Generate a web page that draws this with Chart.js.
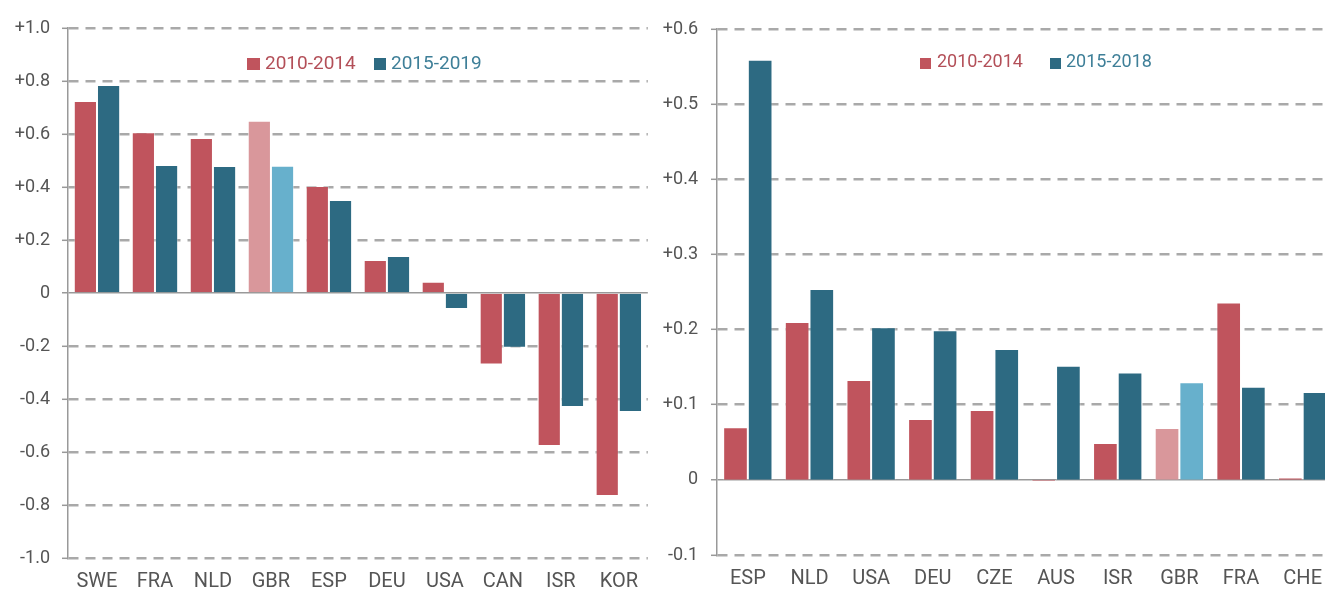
<!DOCTYPE html>
<html>
<head>
<meta charset="utf-8">
<script src="https://cdn.jsdelivr.net/npm/chart.js@4.4.1/dist/chart.umd.min.js"></script>
<style>
  html, body { margin: 0; padding: 0; background: #fff; overflow: hidden; width: 1325px; height: 590px; }
  .wrap { position: absolute; top: 0; height: 590px; }
  #w1 { left: 0; width: 650px; }
  #w2 { left: 650px; width: 684px; }
  .leg { position: absolute; font-family: Roboto, "Open Sans", sans-serif; white-space: nowrap; line-height: 1; }
  .box { position: absolute; }
</style>
</head>
<body>
<div class="wrap" id="w1"><canvas id="c1" width="650" height="590"></canvas></div>
<div class="wrap" id="w2"><canvas id="c2" width="684" height="590"></canvas></div>

<div class="box" style="left:247px;top:58px;width:13px;height:12px;background:#C0545D"></div>
<div class="leg" style="left:265px;top:53px;font-size:19px;color:#B34F58">2010-2014</div>
<div class="box" style="left:374px;top:58px;width:12px;height:12px;background:#2D6A82"></div>
<div class="leg" style="left:391px;top:53px;font-size:19px;color:#3E7F98">2015-2019</div>

<div class="box" style="left:920px;top:58px;width:11px;height:11px;background:#C0545D"></div>
<div class="leg" style="left:937px;top:52px;font-size:18px;color:#B34F58">2010-2014</div>
<div class="box" style="left:1050px;top:58px;width:11px;height:11px;background:#2D6A82"></div>
<div class="leg" style="left:1066px;top:52px;font-size:18px;color:#3E7F98">2015-2018</div>

<script>
// ---------- data ----------
const leftCategories = ['SWE','FRA','NLD','GBR','ESP','DEU','USA','CAN','ISR','KOR'];
const left2010_2014 = [0.725, 0.607, 0.585, 0.650, 0.404, 0.125, 0.042, -0.270, -0.577, -0.766];
const left2015_2019 = [0.785, 0.483, 0.479, 0.480, 0.351, 0.140, -0.060, -0.207, -0.430, -0.449];
const leftTickLabels = ['-1.0','-0.8','-0.6','-0.4','-0.2','0','+0.2','+0.4','+0.6','+0.8','+1.0'];

const rightCategories = ['ESP','NLD','USA','DEU','CZE','AUS','ISR','GBR','FRA','CHE'];
const right2010_2014 = [0.070, 0.210, 0.133, 0.081, 0.093, -0.002, 0.049, 0.069, 0.236, 0.003];
const right2015_2018 = [0.559, 0.254, 0.203, 0.199, 0.174, 0.152, 0.143, 0.130, 0.124, 0.117];
const rightTickLabels = ['-0.1','0','+0.1','+0.2','+0.3','+0.4','+0.5','+0.6'];

const highlight = 'GBR';

// ---------- styles ----------
const RED = '#C0545D', RED_L = '#D9979B', BLUE = '#2D6A82', BLUE_L = '#67B0CC';
const FONT = 'Roboto, "Open Sans", sans-serif';

function makeChart(id, cats, a, b, tickLabels, min, max, step, yWidth, xHeight, yPad, topPad) {
  const colA = cats.map(c => c === highlight ? RED_L : RED);
  const colB = cats.map(c => c === highlight ? BLUE_L : BLUE);
  const isZero = c => c.tick && Math.abs(c.tick.value) < 1e-9;
  return new Chart(document.getElementById(id), {
    type: 'bar',
    data: {
      labels: cats,
      datasets: [
        { data: a, backgroundColor: colA, borderColor: 'rgba(255,255,255,0.35)', borderWidth: 1, borderSkipped: 'start',
          categoryPercentage: 0.8, barPercentage: 1.0 },
        { data: b, backgroundColor: colB, borderColor: 'rgba(255,255,255,0.35)', borderWidth: 1, borderSkipped: 'start',
          categoryPercentage: 0.8, barPercentage: 1.0 }
      ]
    },
    options: {
      responsive: false,
      animation: false,
      layout: { padding: { top: topPad, left: 0, right: 0, bottom: 0 } },
      plugins: { legend: { display: false }, tooltip: { enabled: false } },
      scales: {
        x: {
          grid: { display: false, drawTicks: false },
          border: { display: false },
          ticks: { color: '#555', font: { family: FONT, size: 20 }, padding: 12, maxRotation: 0 },
          afterFit: s => { s.height = xHeight; }
        },
        y: {
          min: min, max: max,
          afterFit: s => { s.width = yWidth; },
          ticks: {
            stepSize: step,
            color: '#555',
            font: { family: FONT, size: 18 },
            padding: yPad,
            callback: (v, i) => tickLabels[i]
          },
          grid: {
            color: c => isZero(c) ? '#999' : '#a9a9a9',
            lineWidth: c => isZero(c) ? 1.5 : 2.6,
            tickLength: 6,
            tickColor: '#999',
            tickWidth: 1.5,
            tickBorderDash: []
          },
          border: {
            display: true, color: '#999', width: 1.5,
            dash: c => isZero(c) ? [] : [10, 7]
          }
        }
      }
    }
  });
}

makeChart('c1', leftCategories, left2010_2014, left2015_2019, leftTickLabels, -1.0, 1.0, 0.2, 68, 32, 12, 28);
makeChart('c2', rightCategories, right2010_2014, right2015_2018, rightTickLabels, -0.1, 0.6, 0.1, 67, 35, 13, 29);
</script>
</body>
</html>
